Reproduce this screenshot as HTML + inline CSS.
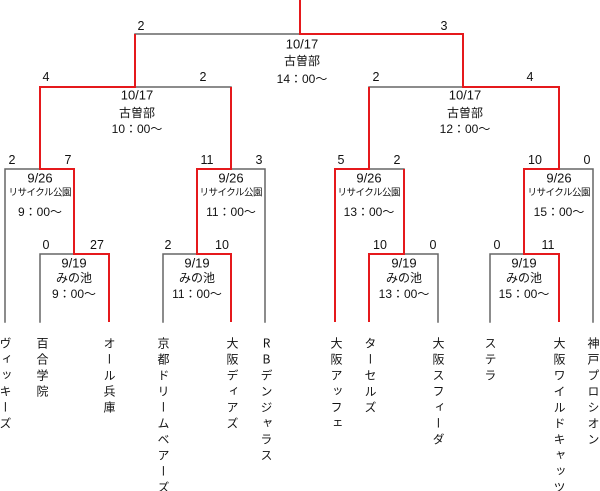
<!DOCTYPE html>
<html><head><meta charset="utf-8"><style>
html{margin:0;padding:0;width:600px;height:491px;overflow:hidden;background:#fff;}
body{margin:0;padding:0;background:#fff;width:600px;height:491px;position:relative;overflow:hidden;font-family:"Liberation Sans","Noto Sans CJK JP",sans-serif;}
svg{position:absolute;left:0;top:0;}
.t{font-family:"Liberation Sans","Noto Sans CJK JP",sans-serif;fill:#111;text-anchor:middle;dominant-baseline:central;}
.d{font-size:13px;}
.p{font-size:12px;}
.s{font-size:9.5px;}
.sc{font-size:12.5px;}
.tm{position:absolute;top:337px;width:14px;height:154px;overflow:hidden;white-space:nowrap;writing-mode:vertical-rl;text-orientation:upright;font-family:"Noto Sans CJK JP",sans-serif;font-size:12px;line-height:14px;letter-spacing:4px;color:#111;}
</style></head><body>
<svg width="600" height="491" viewBox="0 0 600 491">
<g fill="none" stroke="#666" stroke-width="1.5" stroke-linejoin="miter" stroke-linecap="square">
<path d="M135,34 H300"/>
<path d="M135,87 H231"/>
<path d="M369,87 H463"/>
<path d="M5,322 V169 H40"/>
<path d="M40,322 V254 H74"/>
<path d="M231,169 H265 V322"/>
<path d="M163,322 V254 H197"/>
<path d="M369,169 H404"/>
<path d="M404,254 H438 V322"/>
<path d="M559,169 H593 V322"/>
<path d="M490,322 V254 H524"/>
</g>
<g fill="none" stroke="#e5191c" stroke-width="2" stroke-linejoin="miter">
<path d="M300,0 V34 H463 V87 H559 V169 H524 V254 H559 V322"/>
<path d="M135,34 V87 H40 V169 H74 V254 H109 V322"/>
<path d="M231,87 V169 H197 V254 H231 V322"/>
<path d="M369,87 V169 H335 V322"/>
<path d="M404,169 V254 H369 V322"/>
</g>

<text class="t d" x="302" y="44">10/17</text>
<text class="t p" x="302" y="61">古曽部</text>
<text class="t p" x="302" y="79">14：00～</text>
<text class="t d" x="137" y="95">10/17</text>
<text class="t p" x="137" y="113">古曽部</text>
<text class="t p" x="137" y="129">10：00～</text>
<text class="t d" x="465" y="95">10/17</text>
<text class="t p" x="465" y="113">古曽部</text>
<text class="t p" x="465" y="129">12：00～</text>

<text class="t d" x="40" y="178">9/26</text>
<text class="t s" x="40" y="193" textLength="63">リサイクル公園</text>
<text class="t p" x="40" y="212">9：00～</text>

<text class="t d" x="231" y="178">9/26</text>
<text class="t s" x="231" y="193" textLength="63">リサイクル公園</text>
<text class="t p" x="231" y="212">11：00～</text>

<text class="t d" x="369" y="178">9/26</text>
<text class="t s" x="369" y="193" textLength="63">リサイクル公園</text>
<text class="t p" x="369" y="212">13：00～</text>

<text class="t d" x="559" y="178">9/26</text>
<text class="t s" x="559" y="193" textLength="63">リサイクル公園</text>
<text class="t p" x="559" y="212">15：00～</text>

<text class="t d" x="74" y="263">9/19</text>
<text class="t p" x="74" y="278">みの池</text>
<text class="t p" x="74" y="294">9：00～</text>

<text class="t d" x="197" y="263">9/19</text>
<text class="t p" x="197" y="278">みの池</text>
<text class="t p" x="197" y="294">11：00～</text>

<text class="t d" x="404" y="263">9/19</text>
<text class="t p" x="404" y="278">みの池</text>
<text class="t p" x="404" y="294">13：00～</text>

<text class="t d" x="524" y="263">9/19</text>
<text class="t p" x="524" y="278">みの池</text>
<text class="t p" x="524" y="294">15：00～</text>

<text class="t sc" x="141" y="26">2</text>
<text class="t sc" x="444" y="26">3</text>
<text class="t sc" x="46" y="77">4</text>
<text class="t sc" x="203" y="77">2</text>
<text class="t sc" x="376" y="77">2</text>
<text class="t sc" x="530" y="77">4</text>

<text class="t sc" x="12" y="160">2</text>
<text class="t sc" x="68" y="160">7</text>
<text class="t sc" x="207" y="160">11</text>
<text class="t sc" x="259" y="160">3</text>
<text class="t sc" x="341" y="160">5</text>
<text class="t sc" x="397" y="160">2</text>
<text class="t sc" x="535" y="160">10</text>
<text class="t sc" x="587" y="160">0</text>

<text class="t sc" x="46" y="245">0</text>
<text class="t sc" x="97" y="245">27</text>
<text class="t sc" x="168" y="245">2</text>
<text class="t sc" x="222" y="245">10</text>
<text class="t sc" x="380" y="245">10</text>
<text class="t sc" x="433" y="245">0</text>
<text class="t sc" x="497" y="245">0</text>
<text class="t sc" x="548" y="245">11</text>
</svg>

<div class="tm" style="left:-2px;">ヴィッキーズ</div>
<div class="tm" style="left:35px;">百合学院</div>
<div class="tm" style="left:102px;">オール兵庫</div>
<div class="tm" style="left:156px;">京都ドリームベアーズ</div>
<div class="tm" style="left:225px;">大阪ディアズ</div>
<div class="tm" style="left:259px;">RBデンジャラス</div>
<div class="tm" style="left:329px;">大阪アッフェ</div>
<div class="tm" style="left:363px;">ターセルズ</div>
<div class="tm" style="left:431px;">大阪スフィーダ</div>
<div class="tm" style="left:483px;">ステラ</div>
<div class="tm" style="left:552px;">大阪ワイルドキャッツ</div>
<div class="tm" style="left:586px;">神戸プロシオン</div>
</body></html>
